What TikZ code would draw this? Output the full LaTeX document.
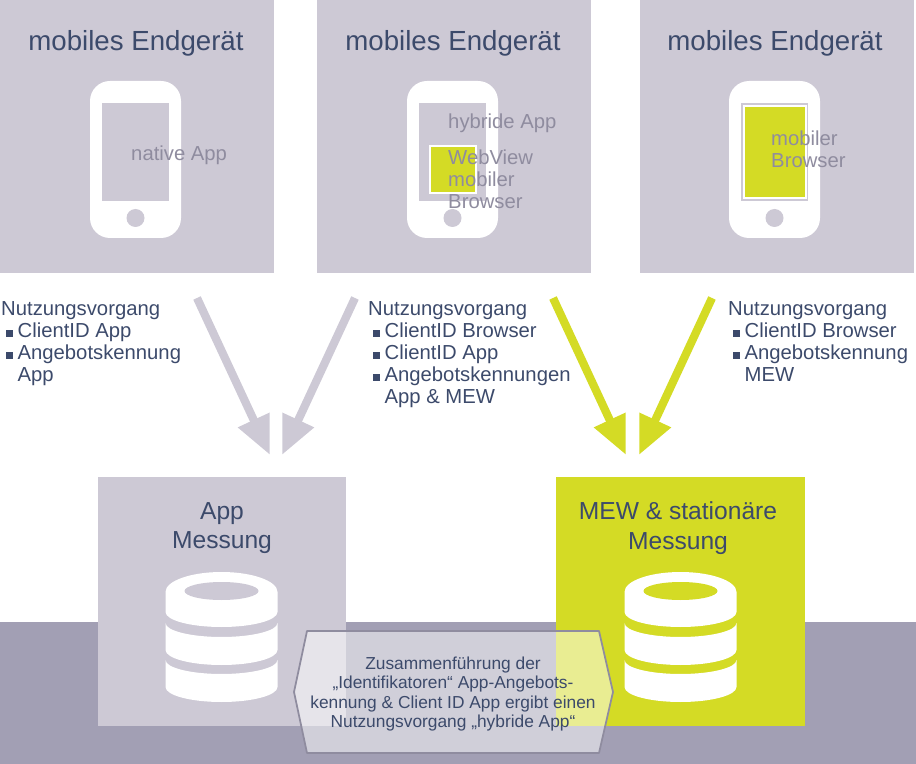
\documentclass[tikz,border=0pt]{standalone}
\usepackage{fontspec}
\setmainfont{Liberation Sans}
\usetikzlibrary{arrows.meta}
\definecolor{boxgrey}{HTML}{CDC9D5}
\definecolor{bandgrey}{HTML}{A29FB4}
\definecolor{limegreen}{HTML}{D4DB25}
\definecolor{darkblue}{HTML}{3C4A6B}
\definecolor{lightlabel}{HTML}{8F8C9F}
\newcommand{\sqitem}{\hspace{4pt}\textcolor{darkblue}{\rule{6pt}{6pt}}\hspace{4pt}}
\tikzset{
  title/.style={text=darkblue,font=\fontsize{23.6}{25}\selectfont,align=center,inner sep=0pt},
  sink/.style={text=darkblue,font=\fontsize{21}{25}\selectfont,align=center,inner sep=0pt},
  usage/.style={text=darkblue,font=\fontsize{17.3}{18.8}\selectfont,align=left,anchor=north west,inner sep=0pt},
  inlabel/.style={text=lightlabel,font=\fontsize{17.3}{18.8}\selectfont,align=left,anchor=north west,inner sep=0pt},
  flow/.style={line width=7pt,-{Triangle[length=33pt,width=28pt]}},
  merged/.style={text=darkblue,font=\fontsize{14.8}{16.6}\selectfont,align=center,inner sep=0pt},
}
\begin{document}
\begin{tikzpicture}
  [x=.03cm,y=-.03cm]
  \useasboundingbox (0,0) rectangle (916,764);

  % band and boxes
  \fill [bandgrey] (0,622) rectangle (916,764);
  \foreach \px in {0,317,640}
    \fill [boxgrey] (\px,0) rectangle +(274,273);
  \fill [boxgrey] (98,477) rectangle (346,726);
  \fill [limegreen] (556,477) rectangle (805,726);

  % phones
  \foreach \px in {90,407,729} {
    \fill [white,rounded corners=.6cm] (\px,81) rectangle +(91,157);
    \fill [boxgrey] (\px+12,103) rectangle +(67,98);
    \fill [boxgrey] (\px+45.5,218) circle (9);
  }
  \filldraw [fill=limegreen,draw=white,line width=.9pt] (430,146) rectangle (476,193);
  \filldraw [fill=limegreen,draw=white,line width=.9pt] (744,106) rectangle (806,198);

  % database stacks
  \foreach \cx/\col in {221.5/boxgrey,680.5/limegreen} {
    \fill [white] (\cx-56,592) arc [start angle=180,end angle=360,x radius=56,y radius=20]
      -- (\cx+56,612) arc [start angle=0,end angle=180,x radius=56,y radius=15] -- cycle;
    \fill [\col] (\cx,591) ellipse (37 and 9);
    \fill [white] (\cx-56,623) arc [start angle=180,end angle=0,x radius=56,y radius=14]
      -- (\cx+56,650) arc [start angle=0,end angle=180,x radius=56,y radius=15] -- cycle;
    \fill [white] (\cx-56,660) arc [start angle=180,end angle=0,x radius=56,y radius=14]
      -- (\cx+56,687) arc [start angle=0,end angle=180,x radius=56,y radius=15] -- cycle;
  }

  % flows
  \coordinate (a1) at (197,298);  \coordinate (b1) at (270,455);
  \coordinate (a2) at (355,298);  \coordinate (b2) at (282,455);
  \coordinate (a3) at (553,298);  \coordinate (b3) at (626,455);
  \coordinate (a4) at (712,298);  \coordinate (b4) at (639,455);
  \foreach \from/\to in {a1/b1,a2/b2}
    \draw [flow,boxgrey] (\from) -- (\to);
  \foreach \from/\to in {a3/b3,a4/b4}
    \draw [flow,limegreen] (\from) -- (\to);

  % hexagon
  \filldraw [fill=white,fill opacity=.5,draw=lightlabel,line width=1.5pt,line join=round]
    (294,692) -- (307,631) -- (599,631) -- (613,692) -- (599,753) -- (307,753) -- cycle;

  \node [title] (dev1) at (136,43) {mobiles Endgerät};
  \node [title] (dev2) at (453,43) {mobiles Endgerät};
  \node [title] (dev3) at (775,43) {mobiles Endgerät};
  \node [sink] (app) at (222,528) {App\\Messung};
  \node [sink] (mew) at (678,528) {MEW \& stationäre\\Messung};

  \node [inlabel] (native) at (131,146) {native App};
  \node [inlabel] (hybrid) at (448,114) {hybride App};
  \node [inlabel] (webview) at (448,150) {WebView\\mobiler\\Browser};
  \node [inlabel] (browser) at (771,131) {mobiler\\Browser};

  \node [usage] (use1) at (1,301) {Nutzungsvorgang\\
    \sqitem ClientID App\\
    \sqitem Angebotskennung\\
    \hspace{14pt}App};
  \node [usage] (use2) at (368,301) {Nutzungsvorgang\\
    \sqitem ClientID Browser\\
    \sqitem ClientID App\\
    \sqitem Angebotskennungen\\
    \hspace{14pt}App \& MEW};
  \node [usage] (use3) at (728,301) {Nutzungsvorgang\\
    \sqitem ClientID Browser\\
    \sqitem Angebotskennung\\
    \hspace{14pt}MEW};

  \node [merged] (merge) at (453,694) {Zusammenführung der\\
    „Identifikatoren“ App-Angebots-\\
    kennung \& Client ID App ergibt einen\\
    Nutzungsvorgang „hybride App“};
\end{tikzpicture}
\end{document}
